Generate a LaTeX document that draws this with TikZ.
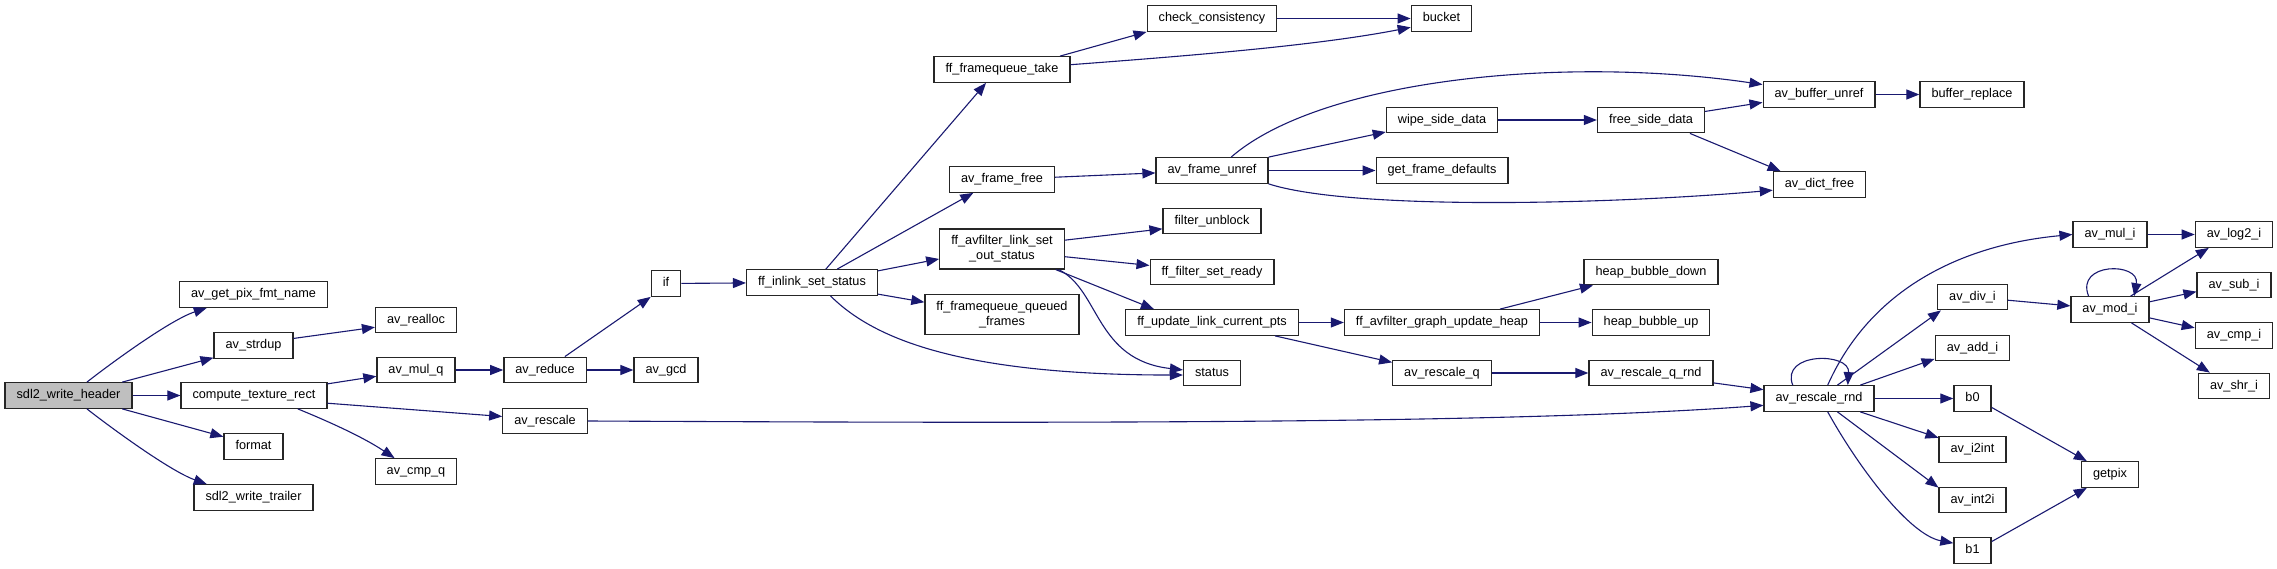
\documentclass[tikz,border=0pt]{standalone}
\usepackage{fontspec}
\setmainfont{Liberation Sans}
\usepackage{tikz}
\usetikzlibrary{arrows.meta}
\definecolor{EdgeBlue}{HTML}{191970}
\definecolor{RootGrey}{HTML}{BFBFBF}

\begin{document}
\begin{tikzpicture}[x=1pt, y=-1pt, >={Triangle[length=13pt,width=10pt]},
    box/.style={draw=black!85, line width=1.3pt, fill=white, inner xsep=11.5pt, inner ysep=0pt, font=\fontsize{12.7}{15}\selectfont},
    fn/.style={box, minimum height=25.5pt, text height=9.5pt, text depth=3pt},
    fntwo/.style={box, minimum height=40pt, align=center},
    root/.style={fn, fill=RootGrey},
    call/.style={->, EdgeBlue, line width=1.1pt}]
    \useasboundingbox (0,0) rectangle (2277,569);

    \node (hdr) [root] at (68.5,395.5) {sdl2\_write\_header};
    \node (pixfmt) [fn] at (253.5,294.5) {av\_get\_pix\_fmt\_name};
    \node (strdup) [fn] at (253.5,345.5) {av\_strdup};
    \node (ctr) [fn] at (254,395.5) {compute\_texture\_rect};
    \node (format) [fn] at (253.5,446.5) {format};
    \node (trailer) [fn] at (253.5,497.5) {sdl2\_write\_trailer};
    \node (realloc) [fn] at (416,320) {av\_realloc};
    \node (mulq) [fn] at (416,370) {av\_mul\_q};
    \node (cmpq) [fn] at (416,471.5) {av\_cmp\_q};
    \node (reduce) [fn] at (545,370) {av\_reduce};
    \node (rescale) [fn] at (545,421) {av\_rescale};
    \node (gcd) [fn] at (666,370) {av\_gcd};
    \node (ifn) [fn] at (666,283.5) {if};
    \node (inlink) [fn] at (812,282.5) {ff\_inlink\_set\_status};
    \node (fqtake) [fn] at (1002,69.5) {ff\_framequeue\_take};
    \node (framefree) [fn] at (1002,179.5) {av\_frame\_free};
    \node (setout) [fntwo] at (1002,249) {ff\_avfilter\_link\_set\\\_out\_status};
    \node (queued) [fntwo] at (1002,314.5) {ff\_framequeue\_queued\\\_frames};
    \node (check) [fn] at (1212,18.5) {check\_consistency};
    \node (unref) [fn] at (1212,170.5) {av\_frame\_unref};
    \node (unblock) [fn] at (1212,221) {filter\_unblock};
    \node (setready) [fn] at (1212,272) {ff\_filter\_set\_ready};
    \node (updpts) [fn] at (1212,322.5) {ff\_update\_link\_current\_pts};
    \node (status) [fn] at (1212,373) {status};
    \node (bucket) [fn] at (1441.5,18.5) {bucket};
    \node (wipe) [fn] at (1442,120) {wipe\_side\_data};
    \node (defaults) [fn] at (1442,170.5) {get\_frame\_defaults};
    \node (heap) [fn] at (1442,322.5) {ff\_avfilter\_graph\_update\_heap};
    \node (rescaleq) [fn] at (1442,373) {av\_rescale\_q};
    \node (freeside) [fn] at (1651,120) {free\_side\_data};
    \node (bubdown) [fn] at (1651,272) {heap\_bubble\_down};
    \node (bubup) [fn] at (1651,322.5) {heap\_bubble\_up};
    \node (rescaleqrnd) [fn] at (1651,373) {av\_rescale\_q\_rnd};
    \node (bufunref) [fn] at (1819,94.5) {av\_buffer\_unref};
    \node (dictfree) [fn] at (1819.5,184.5) {av\_dict\_free};
    \node (rnd) [fn] at (1819,398.5) {av\_rescale\_rnd};
    \node (bufrep) [fn] at (1972,94.5) {buffer\_replace};
    \node (divi) [fn] at (1972.5,297) {av\_div\_i};
    \node (addi) [fn] at (1972.5,348) {av\_add\_i};
    \node (b0) [fn] at (1972.5,398.5) {b0};
    \node (i2int) [fn] at (1972.5,449.5) {av\_i2int};
    \node (int2i) [fn] at (1972.5,500) {av\_int2i};
    \node (b1) [fn] at (1972.5,550.5) {b1};
    \node (muli) [fn] at (2110,234.5) {av\_mul\_i};
    \node (modi) [fn] at (2110,309.5) {av\_mod\_i};
    \node (getpix) [fn] at (2110,474.5) {getpix};
    \node (log2i) [fn] at (2234,234.5) {av\_log2\_i};
    \node (subi) [fn] at (2234,285) {av\_sub\_i};
    \node (cmpi) [fn] at (2234,335.5) {av\_cmp\_i};
    \node (shri) [fn] at (2234,386) {av\_shr\_i};

    \draw[call] (hdr.36) .. controls (110,364) and (170,320) .. (pixfmt.196);
    \draw[call] (hdr.14) -- (strdup.197);
    \draw[call] (hdr) -- (ctr);
    \draw[call] (hdr.-14) -- (format.162);
    \draw[call] (hdr.-36) .. controls (110,427) and (170,471) .. (trailer.164);
    \draw[call] (strdup.10) -- (realloc.190);
    \draw[call] (ctr.9) -- (mulq.189);
    \draw[call] (ctr.-6) -- (rescale.174);
    \draw[call] (ctr.-17) .. controls (320,418) and (360,435) .. (cmpq.148);
    \draw[call] (mulq) -- (reduce);
    \draw[call] (reduce.34) -- (ifn.south west);
    \draw[call] (reduce) -- (gcd);
    \draw[call] (ifn) -- (inlink);
    \draw[call] (inlink.44) -- (fqtake.220);
    \draw[call] (inlink.28) -- (framefree.205);
    \draw[call] (inlink.10) -- (setout.189);
    \draw[call] (inlink.-10) -- (queued.171);
    \draw[call] (inlink.-36) .. controls (870,335) and (950,375) .. (status.-176);
    \draw[call] (fqtake.13) -- (check.south west);
    \draw[call] (fqtake.4) .. controls (1200,55) and (1320,45) .. (bucket.196);
    \draw[call] (check) -- (bucket);
    \draw[call] (framefree) -- (unref);
    \draw[call] (unref.35) .. controls (1320,80) and (1560,55) .. (bufunref.170);
    \draw[call] (unref.north east) -- (wipe.192);
    \draw[call] (unref) -- (defaults);
    \draw[call] (unref.south east) .. controls (1350,210) and (1600,205) .. (dictfree.187);
    \draw[call] (wipe) -- (freeside);
    \draw[call] (freeside.9) -- (bufunref.188);
    \draw[call] (freeside.-19) -- (dictfree.161);
    \draw[call] (bufunref) -- (bufrep);
    \draw[call] (setout.8) -- (unblock.189);
    \draw[call] (setout.-7) -- (setready.174);
    \draw[call] (setout.-21) -- (updpts.167);
    \draw[call] (setout.-20) .. controls (1100,290) and (1095,360) .. (status.174);
    \draw[call] (updpts) -- (heap);
    \draw[call] (updpts.-12) -- (rescaleq.168);
    \draw[call] (heap.13) -- (bubdown.193);
    \draw[call] (heap) -- (bubup);
    \draw[call] (rescaleq) -- (rescaleqrnd);
    \draw[call] (rescaleqrnd.-9) -- (rnd.171);
    \draw[call] (rescale.east) .. controls (1000,423) and (1500,425) .. (rnd.187);
    \draw[call] (rnd.153) .. controls (1780,352) and (1850,352) .. (rnd.25);
    \draw[call] (rnd.57) .. controls (1870,290) and (1960,245) .. (muli.west);
    \draw[call] (rnd.36) -- (divi.203);
    \draw[call] (rnd.18) -- (addi.196);
    \draw[call] (rnd) -- (b0);
    \draw[call] (rnd.-18) -- (i2int.161);
    \draw[call] (rnd.-36) -- (int2i.160);
    \draw[call] (rnd.-57) .. controls (1860,470) and (1910,535) .. (b1.159);
    \draw[call] (muli) -- (log2i);
    \draw[call] (divi) -- (modi);
    \draw[call] (modi.148) .. controls (2075,262) and (2140,262) .. (modi.29);
    \draw[call] (modi.33) -- (log2i.208);
    \draw[call] (modi.11) -- (subi.190);
    \draw[call] (modi.-12) -- (cmpi.169);
    \draw[call] (modi.-32) -- (shri.151);
    \draw[call] (b0.-25) -- (getpix.150);
    \draw[call] (b1.25) -- (getpix.210);
\end{tikzpicture}
\end{document}
